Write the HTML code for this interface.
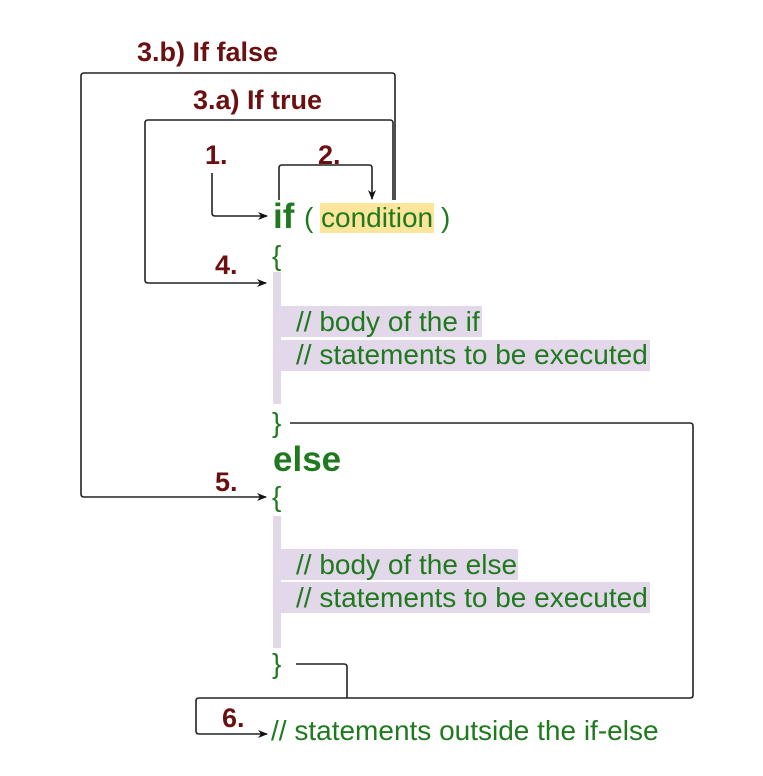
<!DOCTYPE html>
<html><head><meta charset="utf-8"><style>
body{margin:0;background:#fff;width:763px;height:776px;overflow:hidden;position:relative;font-family:"Liberation Sans",Arial,sans-serif}
.t{position:absolute;white-space:nowrap;line-height:1}
.g{color:#1f7a1f;font-size:28px}
.r{color:#6a1010;font-weight:bold;font-size:27px}
.hl{position:absolute;background:#e3d8ea}
</style></head><body>
<div class="hl" style="left:273px;top:272px;width:8px;height:132px"></div>
<div class="hl" style="left:273px;top:306px;width:209px;height:31px"></div>
<div class="hl" style="left:273px;top:340px;width:377px;height:31px"></div>
<div class="hl" style="left:273px;top:516px;width:8px;height:132px"></div>
<div class="hl" style="left:273px;top:549px;width:245px;height:31px"></div>
<div class="hl" style="left:273px;top:582px;width:377px;height:31px"></div>
<div style="position:absolute;left:320px;top:203px;width:114px;height:30px;background:#fde59c"></div>
<svg width="763" height="776" style="position:absolute;left:0;top:0">
<defs><marker id="a" markerWidth="10" markerHeight="10" refX="9" refY="5" orient="auto" markerUnits="userSpaceOnUse"><path d="M0,1 L10,5 L0,9 L3,5 Z" fill="#111"/></marker></defs>
<g fill="none" stroke="#222" stroke-width="1.6">
<path d="M395,200 V76 Q395,73 392,73 H84 Q81,73 81,76 V494 Q81,497 84,497 H266" marker-end="url(#a)"/>
<path d="M393,200 V123 Q393,120 390,120 H148 Q145,120 145,123 V280 Q145,283 148,283 H266" marker-end="url(#a)"/>
<path d="M212,173 V213 Q212,216 215,216 H267" marker-end="url(#a)"/>
<path d="M279,200 V168 Q279,165 282,165 H369 Q372,165 372,168 V199" marker-end="url(#a)"/>
<path d="M290,423 H690 Q693,423 693,426 V695 Q693,698 690,698 H199 Q196,698 196,701 V731 Q196,734 199,734 H267" marker-end="url(#a)"/>
<path d="M296,664 H344 Q347,664 347,667 V698"/>
</g>
</svg>
<div class="t r" style="left:137px;top:39px">3.b) If false</div>
<div class="t r" style="left:193px;top:87px">3.a) If true</div>
<div class="t r" style="left:205px;top:142px">1.</div>
<div class="t r" style="left:318px;top:142px">2.</div>
<div class="t r" style="left:215px;top:252px">4.</div>
<div class="t r" style="left:215px;top:469px">5.</div>
<div class="t r" style="left:222px;top:705px">6.</div>
<div class="t g" style="left:273px;top:199px;font-size:35px;font-weight:bold">if</div>
<div class="t g" style="left:304px;top:204px">(</div>
<div class="t g" style="left:321px;top:204px">condition</div>
<div class="t g" style="left:441px;top:204px">)</div>
<div class="t g" style="left:272px;top:242px">{</div>
<div class="t g" style="left:296px;top:308px">// body of the if</div>
<div class="t g" style="left:296px;top:341px">// statements to be executed</div>
<div class="t g" style="left:272px;top:409px">}</div>
<div class="t g" style="left:273px;top:442px;font-size:35px;font-weight:bold">else</div>
<div class="t g" style="left:272px;top:483px">{</div>
<div class="t g" style="left:296px;top:551px">// body of the else</div>
<div class="t g" style="left:296px;top:584px">// statements to be executed</div>
<div class="t g" style="left:272px;top:650px">}</div>
<div class="t g" style="left:271px;top:717px">// statements outside the if-else</div>
</body></html>
